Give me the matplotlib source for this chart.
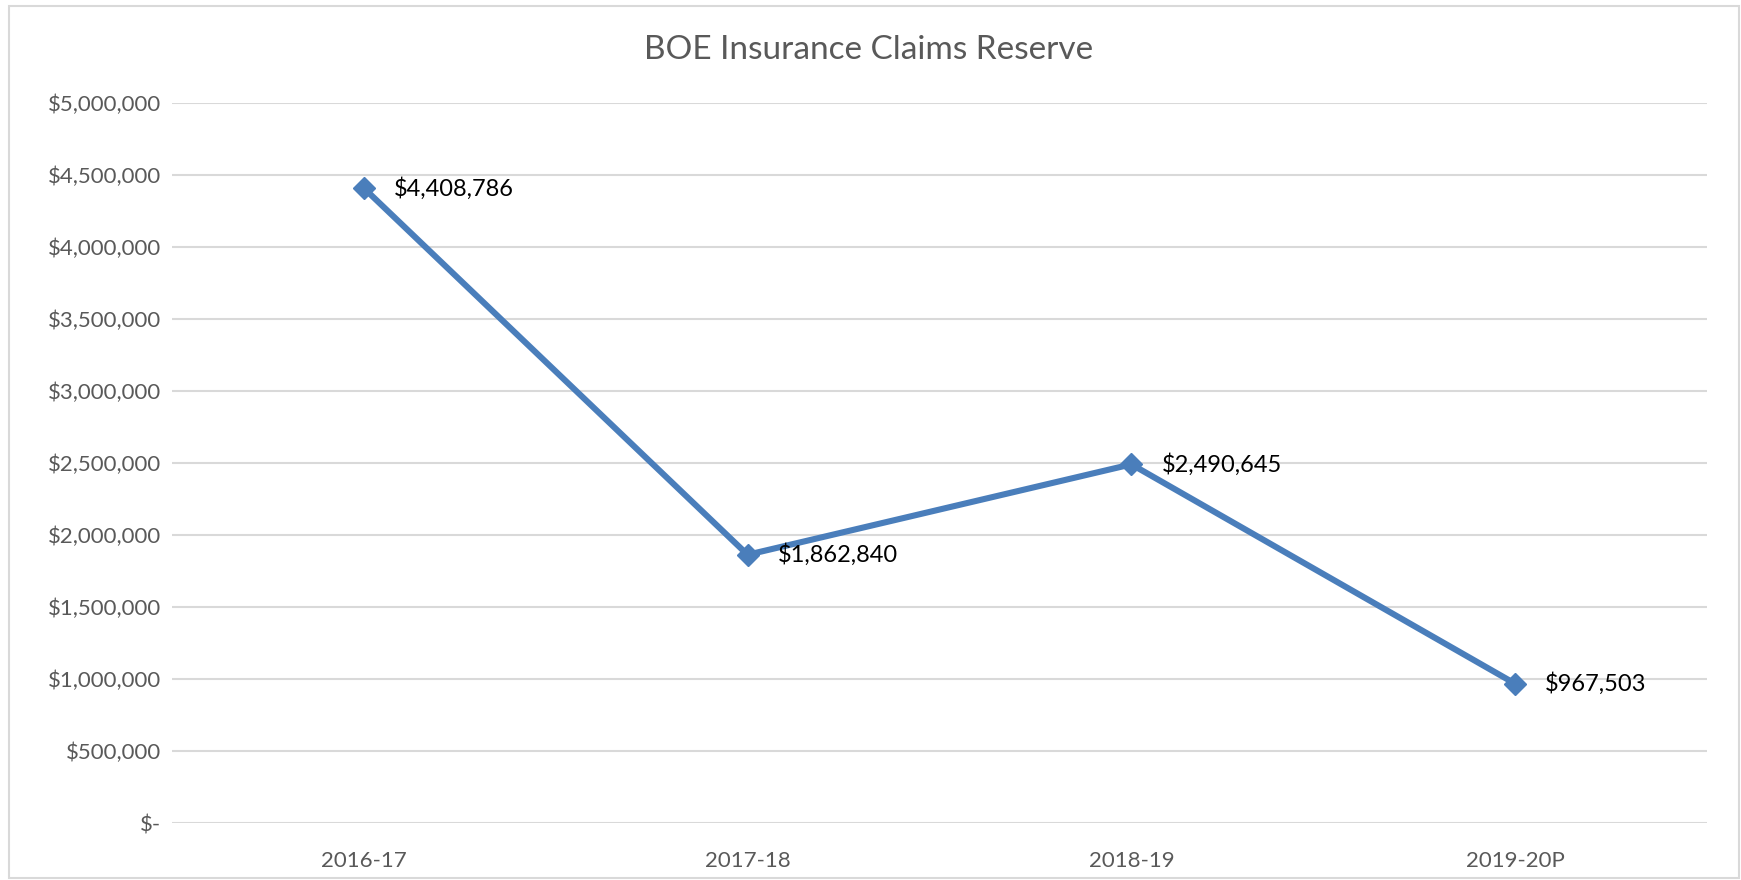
#!/usr/bin/env python3
"""BOE insurance claims reserve by fiscal year, Excel-style line chart."""

import matplotlib
matplotlib.use('Agg')
import matplotlib.pyplot as plt
from matplotlib.patches import Rectangle
from matplotlib.ticker import FuncFormatter

years = ['2016-17', '2017-18', '2018-19', '2019-20P']
reserve = [4408786, 1862840, 2490645, 967503]
y_ticks = [0, 500000, 1000000, 1500000, 2000000, 2500000,
           3000000, 3500000, 4000000, 4500000, 5000000]

LINE_BLUE = '#4A7EBB'
GREY_TEXT = '#595959'
GRID_GREY = '#D9D9D9'

plt.rcParams['font.family'] = ['Lato', 'DejaVu Sans']


def money(v, _pos=None):
    if v == 0:
        return '$-'
    return f'${v:,.0f}'


fig = plt.figure(figsize=(17.41, 8.8), dpi=100)
# plot area in figure fractions (from pixel estimates)
ax = fig.add_axes([172 / 1741, 1 - 823 / 880, (1707 - 172) / 1741, (823 - 103) / 880])

x = list(range(len(years)))
ax.plot(x, reserve, color=LINE_BLUE, linewidth=4.4, marker='D',
        markersize=11, markerfacecolor=LINE_BLUE, markeredgecolor=LINE_BLUE,
        zorder=3, solid_capstyle='round')

for xi, v in zip(x, reserve):
    ax.annotate(money(v), (xi, v), xytext=(30, 0), textcoords='offset pixels',
                ha='left', va='center', fontsize=17, color='black')

ax.set_xlim(-0.5, len(years) - 0.5)
ax.set_ylim(0, 5000000)
ax.set_yticks(y_ticks)
ax.yaxis.set_major_formatter(FuncFormatter(money))
ax.set_xticks(x)
ax.set_xticklabels(years)
ax.tick_params(axis='both', length=0, labelsize=16, labelcolor=GREY_TEXT)
ax.tick_params(axis='y', pad=8)
ax.tick_params(axis='x', pad=20)
ax.grid(axis='y', color=GRID_GREY, linewidth=1.5)
ax.set_axisbelow(True)
for side in ax.spines.values():
    side.set_visible(False)

fig.text(869 / 1741, 1 - 50 / 880, 'BOE Insurance Claims Reserve',
         ha='center', va='center', fontsize=24, color=GREY_TEXT)

# outer chart frame
fig.patches.append(Rectangle((9 / 1741, 2 / 880), 1730 / 1741, 872 / 880,
                             transform=fig.transFigure, fill=False,
                             edgecolor='#D9D9D9', linewidth=1.5))

fig.savefig('out.png', dpi=100)
